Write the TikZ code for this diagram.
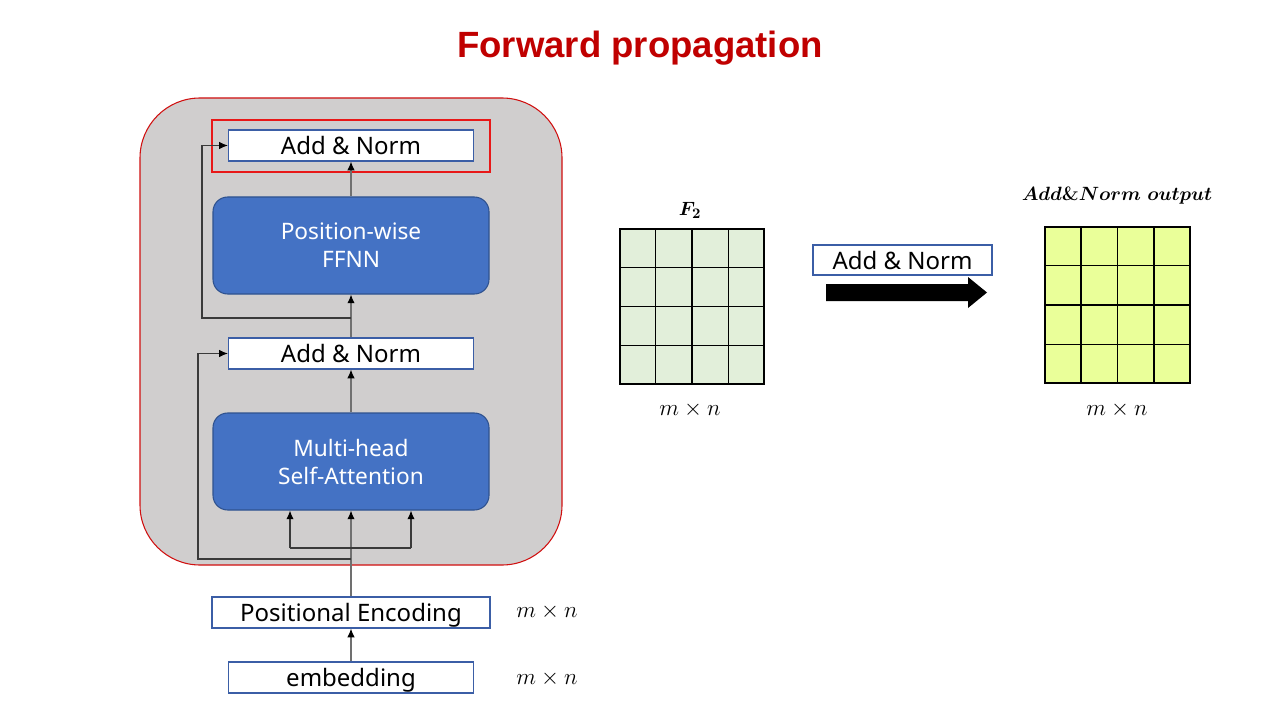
\documentclass[tikz,border=0pt]{standalone}
\usepackage{fontspec}
\usepackage{bm}
\newfontfamily\uifont{Noto Sans}
\newfontfamily\titlefont{Liberation Sans}
\usetikzlibrary{arrows.meta,calc}
\definecolor{titlered}{HTML}{C00000}
\definecolor{panelgray}{HTML}{D0CECE}
\definecolor{panelred}{HTML}{D01010}
\definecolor{hlred}{HTML}{E81818}
\definecolor{blockblue}{HTML}{4472C4}
\definecolor{blockedge}{HTML}{2F528F}
\definecolor{boxedge}{HTML}{3B5EA6}
\definecolor{gridgreen}{HTML}{E2EFDA}
\definecolor{gridyellow}{HTML}{EAFF99}
\definecolor{linegray}{HTML}{707070}
\definecolor{resgray}{HTML}{3A3A3A}
\tikzset{
  x=0.75pt, y=-0.75pt,
  anbox/.style={draw=boxedge, line width=0.9pt, fill=white, minimum width=183.75pt, minimum height=23.25pt, inner sep=0pt, text height=14pt, text depth=0pt, font=\uifont\fontsize{18}{20}\selectfont},
  blockbox/.style={draw=blockedge, line width=0.8pt, fill=blockblue, rounded corners=11pt, minimum width=207pt, minimum height=72.75pt, inner sep=0pt, align=center, text=white, font=\uifont\fontsize{17}{21}\selectfont},
  conn/.style={draw=linegray, line width=0.8pt},
  arr/.style={conn, -{Latex[length=6.5pt,width=5.5pt,color=black]}},
  resarr/.style={arr, draw=resgray},
  dimlabel/.style={font=\fontsize{18}{20}\selectfont, inner sep=0pt},
  gridcell/.style={draw=black, line width=0.9pt, inner sep=0pt},
}
\begin{document}
\begin{tikzpicture}
\useasboundingbox (0,0) rectangle (1280,720);
\fill[white] (0,0) rectangle (1280,720);

% title
\node[font=\titlefont\bfseries\fontsize{27.4}{32}\selectfont, text=titlered] (title) at (640,48) {Forward propagation};

% panel
\draw[panelred, line width=0.8pt, fill=panelgray, rounded corners=45pt] (140,98) rectangle (562,565);

% highlight
\draw[hlred, line width=1.5pt] (212,120) rectangle (490,172);

% nodes
\node[anbox] (an1) at (351,145.5) {Add \& Norm};
\node[blockbox] (ffnn) at (351,245.5) {Position-wise\\FFNN};
\node[anbox] (an2) at (351,353.5) {Add \& Norm};
\node[blockbox] (mha) at (351,461.5) {Multi-head\\Self-Attention};
\node[anbox, minimum width=208.5pt] (pe) at (351,612.5) {Positional Encoding};
\node[anbox] (emb) at (351,677.5) {embedding};

\node[dimlabel] (dpe) at (547,612) {$m\times n$};
\node[dimlabel] (demb) at (547,679) {$m\times n$};

% connectors
\draw[arr] (emb.north) -- (pe.south);
\draw[arr] (pe.north) -- (mha.south);
\coordinate (bl) at (290,548);
\coordinate (brt) at (411,548);
\draw[conn, draw=resgray] (bl) -- (brt);
\draw[resarr] (bl) -- (bl |- mha.south);
\draw[resarr] (brt) -- (brt |- mha.south);
\coordinate (r1) at (351,559);
\draw[resarr] (r1) -- (198,559) |- (an2.west);
\draw[arr] (mha.north) -- (an2.south);
\draw[arr] (an2.north) -- (ffnn.south);
\coordinate (r2) at (351,318);
\draw[resarr] (r2) -- (202,318) |- (an1.west);
\draw[arr] (ffnn.north) -- (an1.south);

% F2 grid
\node[gridcell, fill=gridgreen, minimum width=108pt, minimum height=116.25pt] (f2) at (692,306.5) {};
\foreach \i in {1,2,3} {
  \draw[black, line width=0.9pt] ($(f2.north west)!\i/4!(f2.north east)$) -- ($(f2.south west)!\i/4!(f2.south east)$);
  \draw[black, line width=0.9pt] ($(f2.north west)!\i/4!(f2.south west)$) -- ($(f2.north east)!\i/4!(f2.south east)$);
}
\node[font=\fontsize{15}{17}\selectfont] (f2lab) at (690,210) {$\bm{F_2}$};
\node[dimlabel] (f2dim) at (690,410) {$m\times n$};

% operation box and arrow
\node[anbox, minimum width=134.25pt, minimum height=22.5pt] (op) at (902.5,260) {Add \& Norm};
\fill[black] (826,284) -- (968,284) -- (968,277) -- (987,292.5) -- (968,308) -- (968,301) -- (826,301) -- cycle;

% output grid
\node[gridcell, fill=gridyellow, minimum width=108.75pt, minimum height=117pt] (out) at (1117.5,305) {};
\foreach \i in {1,2,3} {
  \draw[black, line width=0.9pt] ($(out.north west)!\i/4!(out.north east)$) -- ($(out.south west)!\i/4!(out.south east)$);
  \draw[black, line width=0.9pt] ($(out.north west)!\i/4!(out.south west)$) -- ($(out.north east)!\i/4!(out.south east)$);
}
\node[font=\fontsize{14.5}{16}\selectfont] (outlab) at (1117,196) {$\bm{Add}$\textbf{\&}$\bm{Norm\ output}$};
\node[dimlabel] (outdim) at (1117,410) {$m\times n$};
\end{tikzpicture}
\end{document}
